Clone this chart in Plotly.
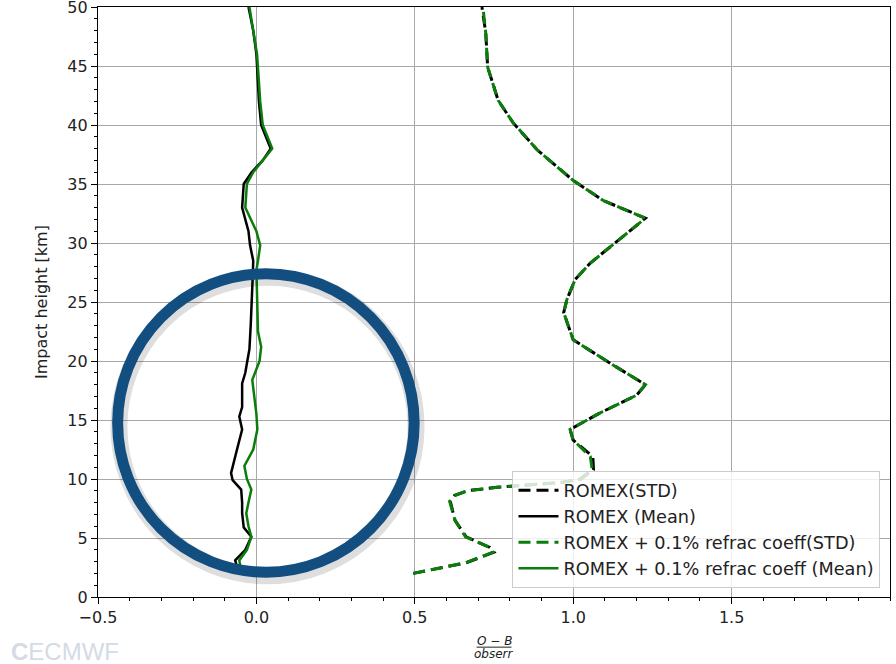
import plotly.graph_objects as go

# ---- data ----
h_green_mean = [2.0, 3.1, 4.0, 5.1, 6.0, 7.1, 8.0, 9.1, 10.0, 11.1, 12.5, 14.2, 15.5, 16.5, 18.4, 20.0,
                21.2, 22.5, 25.1, 27.7, 28.5, 29.8, 31.0, 33.0, 35.0, 36.0, 37.0, 38.0, 39.0, 40.0,
                42.0, 44.0, 46.0, 48.0, 50.0]
x_green_mean = [-0.047, -0.054, -0.030, -0.016, -0.025, -0.032, -0.025, -0.016, -0.030, -0.038, -0.010,
                0.003, 0.000, -0.005, -0.013, 0.010, 0.015, 0.005, 0.003, 0.000, 0.005, 0.012, 0.000,
                -0.035, -0.030, -0.010, 0.020, 0.050, 0.035, 0.020, 0.012, 0.006, 0.002, -0.010, -0.022]

h_black_mean = [2.5, 3.1, 4.0, 5.1, 5.9, 7.1, 8.0, 9.1, 9.9, 10.5, 12.2, 14.2, 15.3, 16.1, 18.1, 19.0,
                20.1, 21.0, 23.0, 25.1, 26.9, 28.5, 29.8, 31.0, 33.0, 35.0, 36.0, 37.0, 38.0, 39.0,
                40.0, 42.0, 44.0, 46.0, 48.0, 50.0]
x_black_mean = [-0.060, -0.067, -0.035, -0.016, -0.040, -0.045, -0.045, -0.048, -0.075, -0.080, -0.064,
                -0.045, -0.054, -0.045, -0.045, -0.035, -0.028, -0.022, -0.018, -0.016, -0.012, -0.010,
                -0.020, -0.025, -0.045, -0.040, -0.015, 0.020, 0.045, 0.030, 0.015, 0.008, 0.003,
                0.000, -0.010, -0.025]

h_std = [2.0, 2.9, 3.8, 4.2, 5.1, 6.5, 8.1, 8.6, 9.0, 9.3, 9.7, 10.0, 10.8, 11.9, 13.3, 14.2, 15.6, 17.1,
         18.0, 19.8, 21.8, 24.1, 25.2, 26.9, 28.3, 30.2, 32.1, 33.6, 35.3, 37.9, 40.2, 42.1, 44.9, 47.8, 50.0]
x_green_std = [0.495, 0.660, 0.747, 0.737, 0.660, 0.627, 0.610, 0.625, 0.665, 0.760, 0.960, 1.020, 1.060,
               1.054, 1.000, 0.990, 1.085, 1.200, 1.228, 1.117, 1.000, 0.970, 0.980, 1.006, 1.054, 1.140,
               1.228, 1.095, 1.000, 0.886, 0.810, 0.763, 0.730, 0.724, 0.715]
x_black_std = [0.495, 0.662, 0.750, 0.737, 0.662, 0.627, 0.612, 0.625, 0.665, 0.760, 0.962, 1.024, 1.064,
               1.062, 1.000, 0.990, 1.085, 1.200, 1.228, 1.117, 1.000, 0.970, 0.980, 1.006, 1.054, 1.140,
               1.228, 1.095, 1.000, 0.886, 0.810, 0.763, 0.730, 0.724, 0.712]

labels = ["ROMEX(STD)", "ROMEX (Mean)", "ROMEX + 0.1% refrac coeff(STD)", "ROMEX + 0.1% refrac coeff (Mean)"]

x_ticks = [-0.5, 0.0, 0.5, 1.0, 1.5]
y_ticks = [0, 5, 10, 15, 20, 25, 30, 35, 40, 45, 50]

GREEN = "#0a7d0a"
DASH = "12px,6px"

fig = go.Figure()
fig.add_trace(go.Scatter(x=x_black_std, y=h_std, mode="lines", name=labels[0],
                         line=dict(color="black", width=3, dash=DASH)))
fig.add_trace(go.Scatter(x=x_black_mean, y=h_black_mean, mode="lines", name=labels[1],
                         line=dict(color="black", width=2.5)))
fig.add_trace(go.Scatter(x=x_green_std, y=h_std, mode="lines", name=labels[2],
                         line=dict(color=GREEN, width=3, dash=DASH)))
fig.add_trace(go.Scatter(x=x_green_mean, y=h_green_mean, mode="lines", name=labels[3],
                         line=dict(color=GREEN, width=2.5)))

axis_common = dict(showline=True, linecolor="black", linewidth=1.2, mirror=True,
                   showgrid=True, gridcolor="#a8a8a8", gridwidth=1, zeroline=False,
                   ticks="outside", ticklen=6, tickcolor="black", automargin=False,
                   ticklabeloverflow="allow",
                   tickfont=dict(family="DejaVu Sans", size=16, color="#222"))

fig.update_xaxes(range=[-0.5, 2.0], tickvals=x_ticks, ticktext=[f"{v:.1f}".replace("-", "\u2212") for v in x_ticks],
                 minor=dict(dtick=0.1, ticks="outside", ticklen=3, tickcolor="black", showgrid=False),
                 **axis_common)
fig.update_yaxes(range=[0, 50], tickvals=y_ticks,
                 minor=dict(dtick=1, ticks="outside", ticklen=3, tickcolor="black", showgrid=False),
                 **axis_common)

# y-axis title
fig.add_annotation(text="Impact height [km]", xref="paper", yref="paper", x=-0.072, y=0.5,
                   textangle=-90, showarrow=False, xanchor="center", yanchor="middle",
                   font=dict(family="DejaVu Sans", size=16, color="#222"))

# highlight ellipse (annotation) with soft shadow
fig.add_shape(type="circle", xref="x", yref="y", x0=-0.434, x1=0.504, y0=1.8, y1=27.1,
              line=dict(color="rgba(0,0,0,0.13)", width=17), layer="above")
fig.add_shape(type="circle", xref="x", yref="y", x0=-0.438, x1=0.498, y0=2.1, y1=27.4,
              line=dict(color="#124e80", width=11), layer="above")

# x-axis label as a fraction
fig.add_annotation(text="<i>O \u2212 B</i>", xref="paper", yref="paper", x=0.5, y=-0.075,
                   showarrow=False, font=dict(family="DejaVu Sans", size=12, color="#222"), yanchor="middle")
fig.add_shape(type="line", xref="paper", yref="paper", x0=0.478, x1=0.522, y0=-0.085, y1=-0.085,
              line=dict(color="#222", width=1))
fig.add_annotation(text="<i>obserr</i>", xref="paper", yref="paper", x=0.5, y=-0.096,
                   showarrow=False, font=dict(family="DejaVu Sans", size=12, color="#222"), yanchor="middle")

# faded ECMWF logo
fig.add_annotation(text="<b>C</b>ECMWF", xref="paper", yref="paper", x=-0.112, y=-0.093,
                   xanchor="left", yanchor="middle", showarrow=False,
                   font=dict(family="Liberation Sans Narrow, Liberation Sans", size=24, color="#d3dbe5"))

fig.update_layout(
    width=896, height=664,
    margin=dict(l=98, r=6, t=7, b=67, autoexpand=False),
    paper_bgcolor="white", plot_bgcolor="white",
    font=dict(family="DejaVu Sans", color="#222"),
    legend=dict(x=0.988, y=0.015, xanchor="right", yanchor="bottom",
                bgcolor="rgba(255,255,255,0.82)", bordercolor="#cccccc", borderwidth=1,
                font=dict(family="DejaVu Sans", size=17.7, color="#222"),
                tracegroupgap=0, itemwidth=40),
    showlegend=True,
)

fig.write_html("out.html", config={"displayModeBar": False},
               post_script="document.body.style.margin='0';document.body.style.padding='0';")
